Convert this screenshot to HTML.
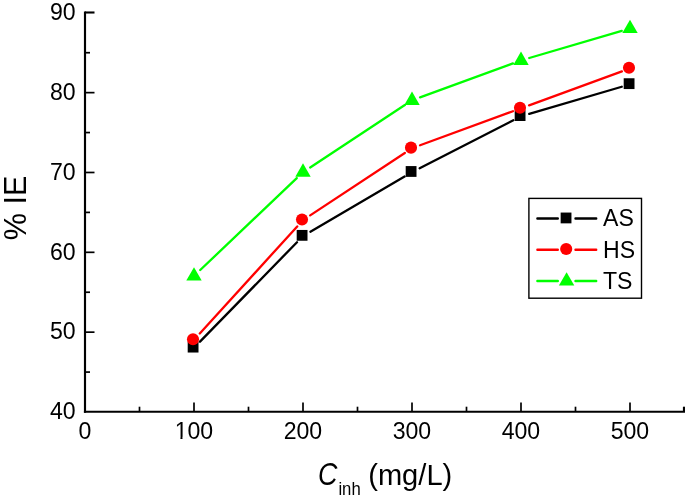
<!DOCTYPE html><html><head><meta charset="utf-8"><style>html,body{margin:0;padding:0;background:#fff;overflow:hidden}svg{display:block;will-change:transform}text{font-family:"Liberation Sans",sans-serif;fill:#000}</style></head><body>
<svg width="685" height="500" viewBox="0 0 685 500">
<rect width="685" height="500" fill="#fff"/>
<g stroke="#000" stroke-width="2.15" fill="none" stroke-linecap="butt">
<path d="M85.0 11.43V412.77"/>
<path d="M83.92 411.7H685"/>
<path d="M85.0 372.08h5" stroke-width="1.7"/>
<path d="M85.0 332.16h9.5" stroke-width="1.7"/>
<path d="M85.0 292.24h5" stroke-width="1.7"/>
<path d="M85.0 252.32h9.5" stroke-width="1.7"/>
<path d="M85.0 212.40h5" stroke-width="1.7"/>
<path d="M85.0 172.48h9.5" stroke-width="1.7"/>
<path d="M85.0 132.56h5" stroke-width="1.7"/>
<path d="M85.0 92.64h9.5" stroke-width="1.7"/>
<path d="M85.0 52.72h5" stroke-width="1.7"/>
<path d="M85.0 12.50h9.5" stroke-width="2.1"/>
<path d="M139.50 411.7v-5" stroke-width="1.7"/>
<path d="M194.00 411.7v-9.2" stroke-width="1.7"/>
<path d="M248.50 411.7v-5" stroke-width="1.7"/>
<path d="M303.00 411.7v-9.2" stroke-width="1.7"/>
<path d="M357.50 411.7v-5" stroke-width="1.7"/>
<path d="M412.00 411.7v-9.2" stroke-width="1.7"/>
<path d="M466.50 411.7v-5" stroke-width="1.7"/>
<path d="M521.00 411.7v-9.2" stroke-width="1.7"/>
<path d="M575.50 411.7v-5" stroke-width="1.7"/>
<path d="M630.00 411.7v-9.2" stroke-width="1.7"/>
<path d="M684.00 411.7v-5" stroke-width="2.2"/>
</g>
<text transform="translate(75.60 419.30) scale(1 1.03)" font-size="23.1px" text-anchor="end">40</text>
<text transform="translate(75.60 339.46) scale(1 1.03)" font-size="23.1px" text-anchor="end">50</text>
<text transform="translate(75.60 259.62) scale(1 1.03)" font-size="23.1px" text-anchor="end">60</text>
<text transform="translate(75.60 179.78) scale(1 1.03)" font-size="23.1px" text-anchor="end">70</text>
<text transform="translate(75.60 99.94) scale(1 1.03)" font-size="23.1px" text-anchor="end">80</text>
<text transform="translate(75.60 20.10) scale(1 1.03)" font-size="23.1px" text-anchor="end">90</text>
<text transform="translate(84.90 439.00) scale(1 1.03)" font-size="23.1px" text-anchor="middle">0</text>
<text transform="translate(193.90 439.00) scale(1 1.03)" font-size="23.1px" text-anchor="middle">100</text>
<text transform="translate(302.90 439.00) scale(1 1.03)" font-size="23.1px" text-anchor="middle">200</text>
<text transform="translate(411.90 439.00) scale(1 1.03)" font-size="23.1px" text-anchor="middle">300</text>
<text transform="translate(520.90 439.00) scale(1 1.03)" font-size="23.1px" text-anchor="middle">400</text>
<text transform="translate(629.90 439.00) scale(1 1.03)" font-size="23.1px" text-anchor="middle">500</text>
<rect x="175.79" y="436.9" width="4.65" height="2.8" fill="#fff"/>
<rect x="182.48" y="436.9" width="4.47" height="2.8" fill="#fff"/>
<path d="M200.00 341.67L297.00 242.21M310.42 231.70L404.58 176.53M419.65 168.26L513.35 120.22M529.25 113.87L621.75 86.77" stroke="#000" stroke-width="2.3" stroke-linecap="round" fill="none"/>
<rect x="187.70" y="341.73" width="10.8" height="10.8" fill="#000"/>
<rect x="296.70" y="229.95" width="10.8" height="10.8" fill="#000"/>
<rect x="405.70" y="166.08" width="10.8" height="10.8" fill="#000"/>
<rect x="514.70" y="110.19" width="10.8" height="10.8" fill="#000"/>
<rect x="623.70" y="78.26" width="10.8" height="10.8" fill="#000"/>
<path d="M199.79 333.48L297.21 226.44M310.18 215.35L404.82 152.96M420.08 145.27L512.92 111.27M529.08 105.35L621.92 71.35" stroke="#f00" stroke-width="2.3" stroke-linecap="round" fill="none"/>
<circle cx="193.00" cy="339.24" r="6.05" fill="#f00"/>
<circle cx="302.00" cy="219.48" r="6.05" fill="#f00"/>
<circle cx="411.00" cy="147.63" r="6.05" fill="#f00"/>
<circle cx="520.00" cy="107.71" r="6.05" fill="#f00"/>
<circle cx="629.00" cy="67.79" r="6.05" fill="#f00"/>
<path d="M200.23 270.04L296.77 178.11M310.18 167.45L404.82 105.06M420.08 97.37L512.92 63.36M529.25 57.99L621.75 30.89" stroke="#0f0" stroke-width="2.3" stroke-linecap="round" fill="none"/>
<path d="M194.00 267.14L201.70 280.54H186.30Z" fill="#0f0"/>
<path d="M303.00 163.35L310.70 176.75H295.30Z" fill="#0f0"/>
<path d="M412.00 91.49L419.70 104.89H404.30Z" fill="#0f0"/>
<path d="M521.00 51.57L528.70 64.97H513.30Z" fill="#0f0"/>
<path d="M630.00 19.63L637.70 33.03H622.30Z" fill="#0f0"/>
<rect x="528.9" y="198.4" width="112.6" height="99.8" fill="#fff" stroke="#000" stroke-width="1.4"/>
<path d="M537.4 218.5H557.8M575.5 218.5H596.2" stroke="#000" stroke-width="2.4" stroke-linecap="round" fill="none"/>
<rect x="560.65" y="212.55" width="10.8" height="10.8" fill="#000"/>
<text transform="translate(603.10 226.30) scale(1 1.03)" font-size="23.1px" text-anchor="start">AS</text>
<path d="M537.4 249.75H557.8M575.5 249.75H596.2" stroke="#f00" stroke-width="2.4" stroke-linecap="round" fill="none"/>
<circle cx="566.20" cy="249.05" r="6.05" fill="#f00"/>
<text transform="translate(603.00 257.60) scale(1 1.03)" font-size="23.1px" text-anchor="start">HS</text>
<path d="M537.4 280.95H557.8M575.5 280.95H596.2" stroke="#0f0" stroke-width="2.4" stroke-linecap="round" fill="none"/>
<path d="M566.60 272.22L574.30 285.62H558.90Z" fill="#0f0"/>
<text transform="translate(603.00 289.20) scale(1 1.03)" font-size="23.1px" text-anchor="start">TS</text>
<text transform="translate(26.1 207.9) rotate(-90) scale(1 1.04)" font-size="30.6px" text-anchor="middle">% IE</text>
<text transform="translate(318.0 484.9) scale(0.88 1.04)" font-size="30.6px" font-style="italic">C</text>
<text transform="translate(338.4 494.7) scale(1 1.09)" font-size="16.7px">inh</text>
<text transform="translate(368.2 484.5) scale(1 1.0)" font-size="29.1px">(mg/L)</text>
</svg></body></html>
